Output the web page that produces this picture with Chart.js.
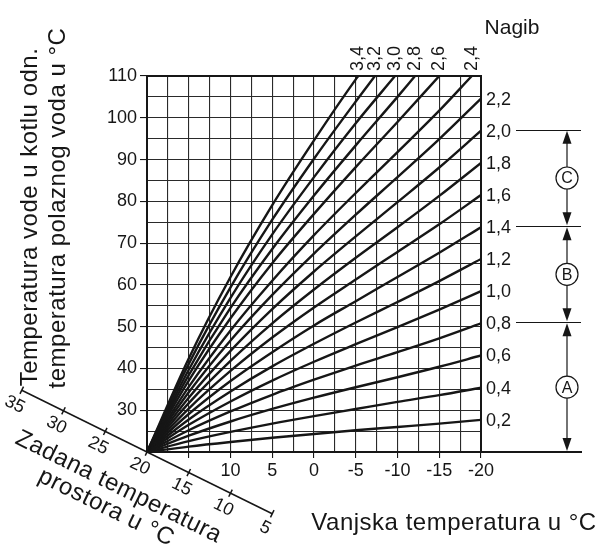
<!DOCTYPE html>
<html>
<head>
<meta charset="utf-8">
<script src="https://cdn.jsdelivr.net/npm/chart.js@4.4.0/dist/chart.umd.min.js"></script>
<style>
  html, body { margin: 0; padding: 0; background: #fff; }
  canvas { display: block; }
</style>
</head>
<body>
<canvas id="heatingChart" width="599" height="548"></canvas>
<script>
// outside temperature points (x) and flow temperature per slope (y)
const outsideTemps = [20, 15, 10, 5, 0, -5, -10, -15, -20];

const slopeLabels = ['0,2', '0,4', '0,6', '0,8', '1,0', '1,2', '1,4', '1,6', '1,8',
  '2,0', '2,2', '2,4', '2,6', '2,8', '3,0', '3,2', '3,4'];

const flow02 = [20, 21.3, 22.4, 23.4, 24.3, 25.2, 26.0, 26.8, 27.7];
const flow04 = [20, 22.6, 24.8, 26.8, 28.6, 30.3, 32.0, 33.6, 35.4];
const flow06 = [20, 23.9, 27.3, 30.3, 33.0, 35.5, 37.9, 40.4, 43.1];
const flow08 = [20, 25.2, 29.7, 33.7, 37.3, 40.7, 43.9, 47.2, 50.8];
const flow10 = [20, 26.5, 32.1, 37.1, 41.6, 45.8, 49.9, 54.1, 58.5];
const flow12 = [20, 27.8, 34.5, 40.5, 45.9, 51.0, 55.9, 60.9, 66.2];
const flow14 = [20, 29.1, 37.0, 43.9, 50.3, 56.1, 61.9, 67.7, 73.8];
const flow16 = [20, 30.4, 39.4, 47.4, 54.6, 61.3, 67.9, 74.5, 81.5];
const flow18 = [20, 31.7, 41.8, 50.8, 58.9, 66.5, 73.8, 81.3, 89.2];
const flow20 = [20, 33.0, 44.2, 54.2, 63.2, 71.6, 79.8, 88.1, 96.9];
const flow22 = [20, 34.3, 46.7, 57.6, 67.5, 76.8, 85.8, 94.9, 104.6];
const flow24 = [20, 35.6, 49.1, 61.0, 71.9, 82.0, 91.8, 101.7, null];
const flow26 = [20, 37.1, 52.0, 65.2, 77.0, 88.2, 99.0, null, null];
const flow28 = [20, 38.4, 54.5, 68.6, 81.4, 93.4, 105.0, null, null];
const flow30 = [20, 39.7, 56.9, 72.1, 85.8, 98.7, null, null, null];
const flow32 = [20, 41.1, 59.4, 75.6, 90.2, 103.9, null, null, null];
const flow34 = [20, 42.4, 61.9, 79.1, 94.6, 109.2, null, null, null];

// outside temperature where the steep curves leave the top of the grid
const topExitTemps = [null, null, null, null, null, null, null, null, null,
  null, null, -18.9, -15.0, -12.1, -9.7, -7.3, -5.3];

const flowTicks = [30, 40, 50, 60, 70, 80, 90, 100, 110];
const outsideTicks = [10, 5, 0, -5, -10, -15, -20];
const roomTemps = [35, 30, 25, 20, 15, 10, 5];
const bands = [['C', '2,0', '1,4'], ['B', '1,4', '0,8'], ['A', '0,8', null]];

const yMin = 20, yMax = 110;
const FONT = '"Liberation Sans", Arial, sans-serif';

const flowSeries = [flow02, flow04, flow06, flow08, flow10, flow12, flow14, flow16, flow18,
  flow20, flow22, flow24, flow26, flow28, flow30, flow32, flow34];

const datasets = flowSeries.map(function(vals, i) {
  const pts = [];
  vals.forEach(function(v, j) {
    if (v !== null) pts.push({ x: outsideTemps[j], y: v });
  });
  if (topExitTemps[i] !== null) pts.push({ x: topExitTemps[i], y: yMax });
  return {
    label: slopeLabels[i],
    data: pts,
    borderColor: '#161616',
    borderWidth: 2.4,
    pointRadius: 0,
    cubicInterpolationMode: 'monotone',
    fill: false
  };
});

const decorations = {
  id: 'decorations',
  afterDraw(chart) {
    const ctx = chart.ctx;
    const a = chart.chartArea;
    const x = chart.scales.x, y = chart.scales.y;
    ctx.save();
    ctx.fillStyle = '#161616';
    ctx.strokeStyle = '#161616';

    // frame of the grid
    ctx.lineWidth = 2;
    ctx.strokeRect(a.left, a.top, a.right - a.left, a.bottom - a.top);

    // slope labels
    ctx.font = '18px ' + FONT;
    chart.data.datasets.forEach(function(ds, i) {
      const last = ds.data[ds.data.length - 1];
      if (topExitTemps[i] === null) {
        ctx.textAlign = 'left';
        ctx.textBaseline = 'middle';
        ctx.fillText(ds.label, a.right + 5, y.getPixelForValue(last.y) + 1);
      } else {
        ctx.save();
        ctx.translate(x.getPixelForValue(last.x), a.top - 5);
        ctx.rotate(-Math.PI / 2);
        ctx.textAlign = 'left';
        ctx.textBaseline = 'middle';
        ctx.fillText(ds.label, 0, 0);
        ctx.restore();
      }
    });

    ctx.font = '21px ' + FONT;
    ctx.textAlign = 'center';
    ctx.textBaseline = 'middle';
    ctx.fillText('Nagib', 512, 28);

    // bands A, B, C on the right
    const endOf = function(lbl) {
      if (lbl === null) return a.bottom;
      const ds = chart.data.datasets[slopeLabels.indexOf(lbl)];
      return y.getPixelForValue(ds.data[ds.data.length - 1].y) - 1;
    };
    const ax = 567;
    ctx.lineWidth = 1;
    ['2,0', '1,4', '0,8'].forEach(function(lbl) {
      const py = Math.round(endOf(lbl)) + 0.5;
      ctx.beginPath();
      ctx.moveTo(516, py);
      ctx.lineTo(581, py);
      ctx.stroke();
    });
    ctx.lineWidth = 2;
    ctx.beginPath();
    ctx.moveTo(a.right, a.bottom);
    ctx.lineTo(582, a.bottom);
    ctx.stroke();

    bands.forEach(function(b) {
      const y1 = endOf(b[1]), y2 = endOf(b[2]);
      const mid = (y1 + y2) / 2;
      ctx.lineWidth = 1.2;
      ctx.beginPath();
      ctx.moveTo(ax, y1 + 10);
      ctx.lineTo(ax, y2 - 10);
      ctx.stroke();
      ctx.beginPath();
      ctx.moveTo(ax, y1 + 1);
      ctx.lineTo(ax - 4.5, y1 + 14);
      ctx.lineTo(ax + 4.5, y1 + 14);
      ctx.closePath();
      ctx.fill();
      ctx.beginPath();
      ctx.moveTo(ax, y2 - 1);
      ctx.lineTo(ax - 4.5, y2 - 14);
      ctx.lineTo(ax + 4.5, y2 - 14);
      ctx.closePath();
      ctx.fill();
      ctx.beginPath();
      ctx.arc(ax, mid, 11, 0, Math.PI * 2);
      ctx.fillStyle = '#fff';
      ctx.fill();
      ctx.stroke();
      ctx.fillStyle = '#161616';
      ctx.font = '16px ' + FONT;
      ctx.textAlign = 'center';
      ctx.textBaseline = 'middle';
      ctx.fillText(b[0], ax, mid + 1);
    });

    // axis titles
    ctx.font = '24px ' + FONT;
    ctx.letterSpacing = '0.5px';
    ctx.save();
    ctx.translate(30, 217);
    ctx.rotate(-Math.PI / 2);
    ctx.fillText('Temperatura vode u kotlu odn.', 0, 0);
    ctx.restore();
    ctx.save();
    ctx.translate(58, 208);
    ctx.rotate(-Math.PI / 2);
    ctx.fillText('temperatura polaznog voda u °C', 0, 0);
    ctx.restore();
    ctx.fillText('Vanjska temperatura u °C', 454, 523);

    // slanted room temperature axis
    const ang = Math.atan(0.493);
    const ox = x.getPixelForValue(20), oy = y.getPixelForValue(yMin);
    const pt = function(r) {
      const px = x.getPixelForValue(r);
      return [px, oy + (px - ox) * Math.tan(ang)];
    };
    const nx = -Math.sin(ang), ny = Math.cos(ang);
    const p0 = pt(roomTemps[0]), p1 = pt(roomTemps[roomTemps.length - 1]);
    ctx.letterSpacing = '0px';
    ctx.lineWidth = 1.5;
    ctx.beginPath();
    ctx.moveTo(p0[0], p0[1]);
    ctx.lineTo(p1[0], p1[1]);
    ctx.stroke();
    ctx.font = '18px ' + FONT;
    roomTemps.forEach(function(r) {
      const p = pt(r);
      ctx.beginPath();
      ctx.moveTo(p[0] - nx * 4, p[1] - ny * 4);
      ctx.lineTo(p[0] + nx * 4, p[1] + ny * 4);
      ctx.stroke();
      ctx.save();
      ctx.translate(p[0] + nx * 16, p[1] + ny * 16);
      ctx.rotate(ang);
      ctx.fillText(String(r), 0, 0);
      ctx.restore();
    });
    ctx.font = '24px ' + FONT;
    ctx.letterSpacing = '0.5px';
    ctx.save();
    ctx.translate(ox, oy);
    ctx.rotate(ang);
    ctx.fillText('Zadana temperatura', -10, 44);
    ctx.fillText('prostora u °C', -12, 68);
    ctx.restore();

    ctx.restore();
  }
};

new Chart(document.getElementById('heatingChart'), {
  type: 'line',
  data: { datasets: datasets },
  plugins: [decorations],
  options: {
    responsive: false,
    animation: false,
    layout: { padding: { left: 0, top: 76, right: 118, bottom: 0 } },
    plugins: { legend: { display: false }, tooltip: { enabled: false } },
    scales: {
      x: {
        type: 'linear',
        reverse: true,
        min: -20,
        max: 20,
        afterFit: function(s) { s.height = 96; },
        border: { display: true, color: '#161616', width: 2 },
        grid: {
          color: '#2a2a2a',
          lineWidth: 1.1,
          tickLength: 6,
          tickColor: function(c) {
            return outsideTicks.indexOf(c.tick.value) >= 0 || c.tick.value === 15 ? '#161616' : 'rgba(0,0,0,0)';
          }
        },
        ticks: {
          stepSize: 2.5,
          autoSkip: false,
          maxRotation: 0,
          padding: 2,
          color: '#161616',
          font: { family: FONT, size: 18 },
          callback: function(v) { return outsideTicks.indexOf(v) >= 0 ? String(v) : ''; }
        }
      },
      y: {
        min: yMin,
        max: yMax,
        afterFit: function(s) { s.width = 147; },
        border: { display: true, color: '#161616', width: 2 },
        grid: {
          color: '#2a2a2a',
          lineWidth: 1.1,
          tickLength: 7,
          tickColor: function(c) {
            return flowTicks.indexOf(c.tick.value) >= 0 ? '#161616' : 'rgba(0,0,0,0)';
          }
        },
        ticks: {
          stepSize: 5,
          autoSkip: false,
          padding: 3,
          color: '#161616',
          font: { family: FONT, size: 18 },
          callback: function(v) { return flowTicks.indexOf(v) >= 0 ? String(v) : ''; }
        }
      }
    }
  }
});
</script>
</body>
</html>
